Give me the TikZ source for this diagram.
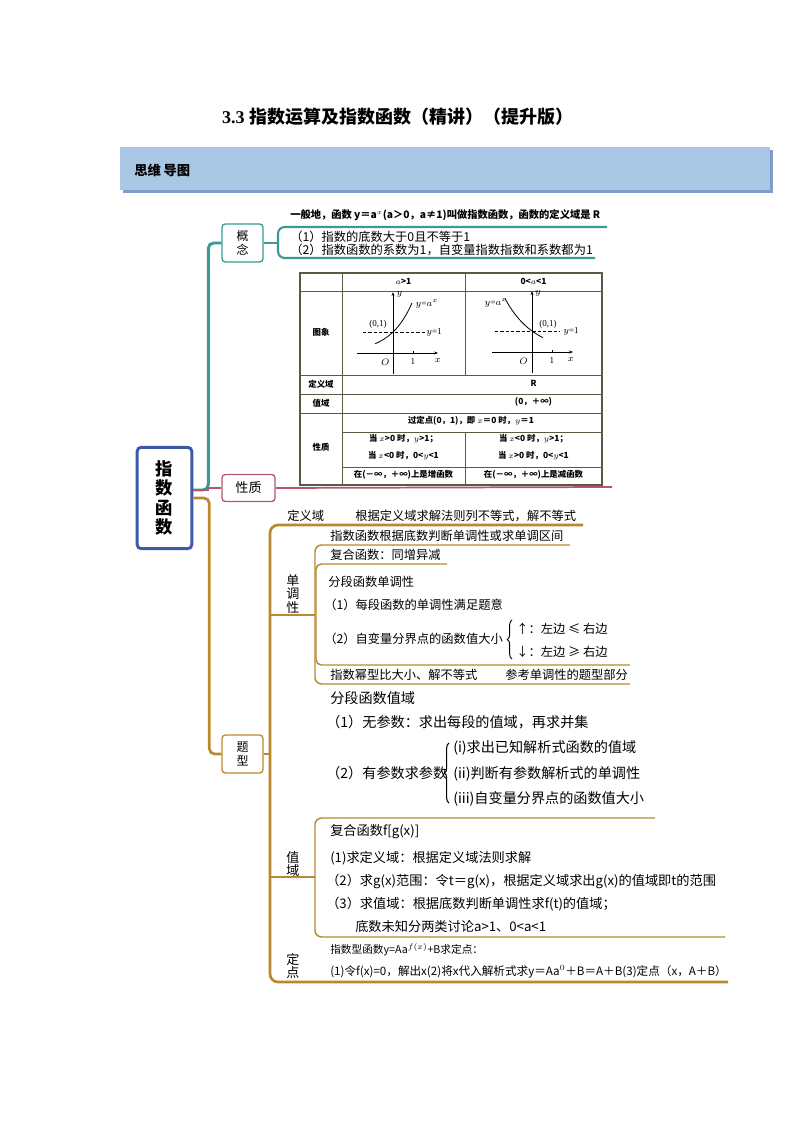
\documentclass[tikz,border=0pt]{standalone}
\usepackage{fontspec}
\setmainfont{Liberation Serif}
\newfontfamily\cjk{Noto Sans CJK SC}
\usetikzlibrary{arrows.meta, decorations.pathreplacing}

\definecolor{cteal}{HTML}{3B9A93}
\definecolor{cpink}{HTML}{B5566E}
\definecolor{cgold}{HTML}{B8892E}
\definecolor{croot}{HTML}{3D5AA8}
\definecolor{cbanner}{HTML}{AAC7E6}
\definecolor{cshadow}{HTML}{7D9CC8}
\definecolor{ctable}{HTML}{5B5A45}

\begin{document}
\begin{tikzpicture}[
  x=0.75pt, y=-0.75pt,
  rootbox/.style={draw=croot, line width=2.2pt, rounded corners=3pt, fill=white,
                  align=center, inner sep=0pt, minimum width=41pt, minimum height=76pt,
                  font=\cjk\bfseries\fontsize{13}{14.6}\selectfont},
  topic/.style={line width=1pt, rounded corners=2.5pt, fill=white, align=center,
                inner sep=0pt, font=\cjk\fontsize{9}{10.5}\selectfont},
  sublbl/.style={align=center, inner sep=0pt, font=\cjk\fontsize{9.8}{10.2}\selectfont},
  txt/.style={anchor=west, inner sep=0pt, font=\cjk\fontsize{9.2}{11}\selectfont},
  bigtxt/.style={anchor=west, inner sep=0pt, font=\cjk\fontsize{10.6}{12}\selectfont},
  wtxt/.style={anchor=west, inner sep=0pt, font=\cjk\fontsize{9.9}{11}\selectfont},
  tabtxt/.style={inner sep=0pt, font=\cjk\bfseries\fontsize{6.3}{7}\selectfont},
  grtxt/.style={inner sep=0pt, font=\rmfamily\fontsize{6.8}{7}\selectfont},
  tealline/.style={draw=cteal, line width=1.6pt},
  pinkline/.style={draw=cpink, line width=1.3pt},
  goldline/.style={draw=cgold, line width=1.1pt},
  goldtrunk/.style={draw=cgold, line width=2pt},
  tabline/.style={draw=ctable, line width=0.6pt},
  lbrace/.style={decorate, decoration={brace, amplitude=3.5pt}, line width=0.7pt}
]
\useasboundingbox (0,0) rectangle (794,1123);

%% ---------- title and banner ----------
\node[font=\cjk\bfseries\fontsize{13.5}{16}\selectfont] (title) at (398,117)
  {{\rmfamily 3.3}\hspace{4pt}指数运算及指数函数（精讲）（提升版）};
\fill[cshadow] (123,150) rectangle (773,193);
\fill[cbanner] (120,147) rectangle (770,190);
\node[anchor=west, inner sep=0pt, font=\cjk\bfseries\fontsize{10}{12}\selectfont]
  (banner) at (134,170) {思维\hspace{2pt}导图};

%% ---------- root and first level ----------
\node[rootbox] (root) at (164.5,498) {指\\数\\函\\数};
\node[topic, draw=cteal, minimum width=30.75pt, minimum height=28.5pt]
  (gainian) at (242.5,243) {概\\念};
\node[topic, draw=cpink, minimum width=39.75pt, minimum height=20.25pt,
  font=\cjk\fontsize{9.8}{11}\selectfont] (xingzhi) at (248.5,488) {性质};
\node[topic, draw=cgold, minimum width=30.75pt, minimum height=28.5pt]
  (tixing) at (242.5,754) {题\\型};

\draw[tealline, line width=2.2pt, rounded corners=4pt]
  ([yshift=6pt]root.east) -- ++(15,0) |- (gainian.west);
\draw[pinkline] ([yshift=6pt]root.east) -- ++(15,0) |- (xingzhi.west);
\draw[goldtrunk, rounded corners=4pt] (root.east) -- ++(16,0) |- (tixing.west);

%% ---------- 概念 ----------
\coordinate (gnA) at (607,227);
\coordinate (gnB) at (595,258);
\draw[tealline, rounded corners=5pt] (gnA) -- (278,227) -- (278,258) -- (gnB);
\draw[tealline] (gainian.east) -- (278,243);
\node[txt, font=\cjk\bfseries\fontsize{7.7}{9}\selectfont] (def) at (290,215)
  {一般地，函数 y＝a$^{x}$(a＞0，a≠1)叫做指数函数，函数的定义域是 R};
\node[txt, align=left, font=\cjk\fontsize{9.2}{9.8}\selectfont] (notes) at (290,243)
  {（1）指数的底数大于0且不等于1\\（2）指数函数的系数为1，自变量指数指数和系数都为1};

%% ---------- 性质: table ----------
\coordinate (xzend) at (612,487);
\draw[pinkline] (xingzhi.east) -- (xzend);
\draw[tabline, line width=1pt] (300,273) rectangle (602,485);
\foreach \yy in {291,375,394,413} \draw[tabline] (300,\yy) -- (602,\yy);
\foreach \yy in {432,467} \draw[tabline] (342,\yy) -- (602,\yy);
\draw[tabline] (342,273) -- (342,485);
\draw[tabline] (465,273) -- (465,375);
\draw[tabline] (465,432) -- (465,485);

\node[tabtxt] (hA) at (403.5,281) {$a$>1};
\node[tabtxt] (hB) at (533.5,281) {0<$a$<1};
\node[tabtxt] (rA) at (321,332) {图象};
\node[tabtxt] (rB) at (321,384) {定义域};
\node[tabtxt] (rC) at (321,403) {值域};
\node[tabtxt] (rD) at (321,447) {性质};
\node[tabtxt] (cR) at (533.5,383) {R};
\node[tabtxt] (cV) at (533.5,402) {(0，＋∞)};
\node[tabtxt] (cP) at (471,421) {过定点(0，1)，即 $x$＝0 时，$y$＝1};
\node[tabtxt] (pA1) at (403.5,439) {当 $x$>0 时，$y$>1；};
\node[tabtxt] (pA2) at (403.5,456) {当 $x$<0 时，0<$y$<1};
\node[tabtxt] (pB1) at (533.5,439) {当 $x$<0 时，$y$>1；};
\node[tabtxt] (pB2) at (533.5,456) {当 $x$>0 时，0<$y$<1};
\node[tabtxt] (pA3) at (403.5,475) {在(－∞，＋∞)上是增函数};
\node[tabtxt] (pB3) at (533.5,475) {在(－∞，＋∞)上是减函数};

% graph a>1
\begin{scope}[shift={(393,353)}, x=15pt, y=15.75pt]
  \draw[-{Stealth[length=3pt]}, line width=0.5pt] (-1.8,0) -- (2.25,0);
  \draw[-{Stealth[length=3pt]}, line width=0.5pt] (0,-1) -- (0,2.9);
  \draw[line width=0.4pt] (1,0) -- (1,0.1);
  \draw[dash pattern=on 2.5pt off 1.5pt, line width=0.5pt] (-1.5,1) -- (1.7,1);
  \draw[line width=0.6pt, domain=-0.9:0.95, smooth, samples=30]
    plot (\x, {pow(2.5,\x)});
  \node[grtxt] (gO) at (-0.38,-0.42) {$O$};
  \node[grtxt] (g1) at (1,-0.42) {1};
  \node[grtxt] (gx) at (2.25,-0.35) {$x$};
  \node[grtxt] (gy) at (0.32,2.8) {$y$};
  \node[grtxt] (gp) at (-0.75,1.35) {(0,1)};
  \node[grtxt] (gl) at (2.05,1) {$y$=1};
  \node[grtxt] (gf) at (1.7,2.35) {$y$=$a^x$};
\end{scope}
% graph 0<a<1
\begin{scope}[shift={(532,352)}, x=15pt, y=15.75pt]
  \draw[-{Stealth[length=3pt]}, line width=0.5pt] (-2,0) -- (2.05,0);
  \draw[-{Stealth[length=3pt]}, line width=0.5pt] (0,-1) -- (0,2.9);
  \draw[line width=0.4pt] (1,0) -- (1,0.1);
  \draw[dash pattern=on 2.5pt off 1.5pt, line width=0.5pt] (-1.85,1) -- (1.4,1);
  \draw[line width=0.6pt, domain=-1.35:0.55, smooth, samples=30]
    plot (\x, {pow(0.5,\x)});
  \node[grtxt] (hO) at (-0.42,-0.42) {$O$};
  \node[grtxt] (h1) at (1,-0.42) {1};
  \node[grtxt] (hx) at (1.95,-0.35) {$x$};
  \node[grtxt] (hy) at (0.3,2.8) {$y$};
  \node[grtxt] (hp) at (0.8,1.32) {(0,1)};
  \node[grtxt] (hl) at (1.95,1) {$y$=1};
  \node[grtxt] (hf) at (-1.8,2.35) {$y$=$a^x$};
\end{scope}

%% ---------- 题型: trunk ----------
\coordinate (dyEnd) at (583,525);
\coordinate (ddEnd) at (728,982);
\draw[goldtrunk, rounded corners=6pt] (dyEnd) -- (270,525) -- (270,982) -- (ddEnd);
\draw[goldline] (tixing.east) -- (270,754);

% 定义域
\node[txt] (dingyi) at (287,516) {定义域};
\node[txt] (dingyiT) at (355,516) {根据定义域求解法则列不等式，解不等式};

% 单调性
\node[sublbl] (dandiao) at (293,594) {单\\调\\性};
\draw[goldline] (270,615) -- (315,615);
\draw[goldline, rounded corners=5pt] (570,545) -- (315,545) -- (315,684) -- (630,684);
\draw[goldline, rounded corners=4pt] (447,564) -- (316,564) -- (316,665) -- (630,665);
\node[txt] (ddA) at (330,536) {指数函数根据底数判断单调性或求单调区间};
\node[txt] (ddB) at (330,555) {复合函数：同增异减};
\node[txt] (ddC) at (328,582) {分段函数单调性};
\node[txt] (ddC1) at (324,605) {（1）每段函数的单调性满足题意};
\node[txt] (ddC2) at (324,639) {（2）自变量分界点的函数值大小};
\draw[lbrace] (512,659) -- (512,620);
\node[txt] (up) at (516,629) {↑：左边 ≤ 右边};
\node[txt] (down) at (516,652) {↓：左边 ≥ 右边};
\node[txt] (ddD) at (330,675) {指数幂型比大小、解不等式};
\node[txt] (ddE) at (505,675) {参考单调性的题型部分};

% 分段函数值域
\node[bigtxt] (fdA) at (330,698) {分段函数值域};
\node[bigtxt] (fdB) at (326,722) {（1）无参数：求出每段的值域，再求并集};
\node[bigtxt] (fdC) at (326,773) {（2）有参数求参数};
\draw[lbrace, line width=0.8pt] (449,803) -- (449,743);
\node[bigtxt] (fdC1) at (453,748) {(i)求出已知解析式函数的值域};
\node[bigtxt] (fdC2) at (453,774) {(ii)判断有参数解析式的单调性};
\node[bigtxt] (fdC3) at (453,799) {(iii)自变量分界点的函数值大小};

% 值域
\node[sublbl] (zhiyu) at (293,864) {值\\域};
\draw[goldline] (270,877) -- (315,877);
\draw[goldline, rounded corners=5pt] (655,818) -- (315,818) -- (315,937) -- (725,937);
\node[wtxt] (zyA) at (330,832) {复合函数f[g(x)]};
\node[wtxt] (zyB) at (330,858) {(1)求定义域：根据定义域法则求解};
\node[wtxt] (zyC) at (326,881) {（2）求g(x)范围：令t＝g(x)，根据定义域求出g(x)的值域即t的范围};
\node[wtxt] (zyD) at (326,904) {（3）求值域：根据底数判断单调性求f(t)的值域；};
\node[wtxt] (zyE) at (355,926) {底数未知分两类讨论a>1、0<a<1};

% 定点
\node[sublbl] (dingdian) at (293,966) {定\\点};
\node[txt, font=\cjk\fontsize{8}{9}\selectfont] (dpA) at (330,950)
  {指数型函数y=Aa$^{f(x)}$+B求定点：};
\node[txt, font=\cjk\fontsize{8.7}{10}\selectfont] (dpB) at (330,972)
  {(1)令f(x)=0，解出x(2)将x代入解析式求y＝Aa$^{0}$＋B＝A＋B(3)定点（x，A＋B）};
\end{tikzpicture}
\end{document}
